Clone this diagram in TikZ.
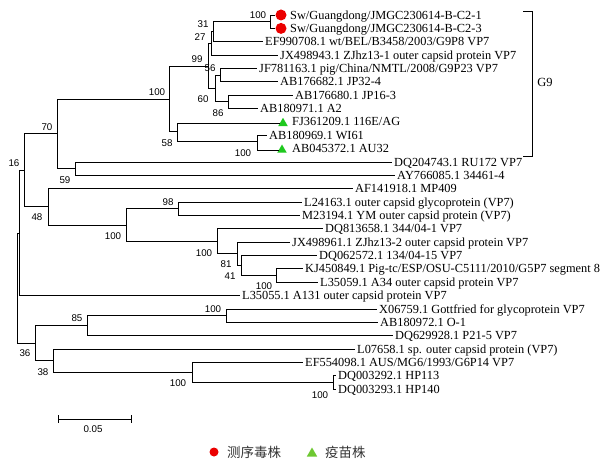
\documentclass[tikz,border=0pt]{standalone}
\usepackage{fontspec}
\setmainfont{Liberation Serif}
\newfontfamily\bsfont{Liberation Sans}
\newfontfamily\cjk{Noto Sans CJK SC}
\usetikzlibrary{shapes.geometric}
\definecolor{seqred}{RGB}{235,0,0}
\definecolor{vacgreen}{RGB}{30,200,30}
\definecolor{leggreen}{RGB}{110,200,50}

\begin{document}
\begin{tikzpicture}[x=1bp,y=-1bp]
		\tikzstyle{leaf} = [anchor=west, inner xsep=2bp, inner ysep=0, text height=8.2bp, text depth=0bp,
		font=\fontsize{12.4}{13}\selectfont]
		\tikzstyle{boot} = [inner sep=0, font=\bsfont\fontsize{9.8}{10}\selectfont]
		\tikzstyle{seq} = [circle, fill=seqred, minimum size=11bp, inner sep=0]
		\tikzstyle{vac} = [regular polygon, regular polygon sides=3, fill=vacgreen,
		minimum size=11bp, inner sep=0, yshift=-1.4bp]
		\tikzstyle{branch} = [line width=0.8bp]
		
		\useasboundingbox (0,0) rectangle (600,466);
		
		% internal nodes
		\coordinate (n100b) at (270,21.7);
		\coordinate (n31) at (213,31.7);
		\coordinate (n27) at (211.5,43.4);
		\coordinate (n56) at (220,75.1);
		\coordinate (n86) at (228,101.8);
		\coordinate (n60) at (215,88.5);
		\coordinate (n99) at (208.5,66);
		\coordinate (n100c) at (257,141.9);
		\coordinate (n58) at (177,131.9);
		\coordinate (n100a) at (169,99);
		\coordinate (n59) at (75,168.7);
		\coordinate (n70) at (57,133.8);
		\coordinate (n98) at (178,208.7);
		\coordinate (n100f) at (276,275.5);
		\coordinate (n41) at (241,265.5);
		\coordinate (n81) at (237,253.8);
		\coordinate (n100e) at (217,241.3);
		\coordinate (n100d) at (126,225);
		\coordinate (n48) at (48,206.9);
		\coordinate (n16) at (24,170.3);
		\coordinate (nA) at (19,233);
		\coordinate (n100h) at (226,315.6);
		\coordinate (n85) at (87,325.6);
		\coordinate (n100g) at (333,382.4);
		\coordinate (n100i) at (192,372.4);
		\coordinate (n38) at (53,360.7);
		\coordinate (n36) at (35,343.2);
		\coordinate (root) at (17,288);
		
		% leaves
		\node [seq] (m1) at (281,15) {};
		\node [leaf] (t1) at (288,15) {Sw/Guangdong/JMGC230614-B-C2-1};
		\node [seq] (m2) at (281,28.4) {};
		\node [leaf] (t2) at (288,28.4) {Sw/Guangdong/JMGC230614-B-C2-3};
		\node [leaf] (t3) at (263,41.7) {EF990708.1 wt/BEL/B3458/2003/G9P8 VP7};
		\node [leaf] (t4) at (278,55.1) {JX498943.1 ZJhz13-1 outer capsid protein VP7};
		\node [leaf] (t5) at (257,68.4) {JF781163.1 pig/China/NMTL/2008/G9P23 VP7};
		\node [leaf] (t6) at (278,81.8) {AB176682.1 JP32-4};
		\node [leaf] (t7) at (293,95.1) {AB176680.1 JP16-3};
		\node [leaf] (t8) at (258,108.5) {AB180971.1 A2};
		\node [vac] (m9) at (283,121.9) {};
		\node [leaf] (t9) at (290,121.9) {FJ361209.1 116E/AG};
		\node [leaf] (t10) at (267,135.2) {AB180969.1 WI61};
		\node [vac] (m11) at (282,148.6) {};
		\node [leaf] (t11) at (290,148.6) {AB045372.1 AU32};
		\node [leaf] (t12) at (392,162) {DQ204743.1 RU172 VP7};
		\node [leaf] (t13) at (395,175.3) {AY766085.1 34461-4};
		\node [leaf] (t14) at (353,188.7) {AF141918.1 MP409};
		\node [leaf] (t15) at (302,202) {L24163.1 outer capsid glycoprotein (VP7)};
		\node [leaf] (t16) at (300,215.4) {M23194.1 YM outer capsid protein (VP7)};
		\node [leaf] (t17) at (323,228.8) {DQ813658.1 344/04-1 VP7};
		\node [leaf] (t18) at (290,242.1) {JX498961.1 ZJhz13-2 outer capsid protein VP7};
		\node [leaf] (t19) at (317,255.5) {DQ062572.1 134/04-15 VP7};
		\node [leaf] (t20) at (303,268.8) {KJ450849.1 Pig-tc/ESP/OSU-C5111/2010/G5P7 segment 8};
		\node [leaf] (t21) at (318,282.2) {L35059.1 A34 outer capsid protein VP7};
		\node [leaf] (t22) at (240,295.6) {L35055.1 A131 outer capsid protein VP7};
		\node [leaf] (t23) at (377,308.9) {X06759.1 Gottfried for glycoprotein VP7};
		\node [leaf] (t24) at (378,322.3) {AB180972.1 O-1};
		\node [leaf] (t25) at (393,335.6) {DQ629928.1 P21-5 VP7};
		\node [leaf] (t26) at (355,349) {L07658.1 sp. outer capsid protein (VP7)};
		\node [leaf] (t27) at (303,362.4) {EF554098.1 AUS/MG6/1993/G6P14 VP7};
		\node [leaf] (t28) at (336,375.7) {DQ003292.1 HP113};
		\node [leaf] (t29) at (336,389) {DQ003293.1 HP140};
		
		% branches
		\draw [branch] (n100b) |- (m1);
		\draw [branch] (n100b) |- (m2);
		\draw [branch] (n31) |- (n100b);
		\draw [branch] (n31) |- (t3);
		\draw [branch] (n27) |- (n31);
		\draw [branch] (n27) |- (t4);
		\draw [branch] (n56) |- (t5);
		\draw [branch] (n56) |- (t6);
		\draw [branch] (n86) |- (t7);
		\draw [branch] (n86) |- (t8);
		\draw [branch] (n60) |- (n56);
		\draw [branch] (n60) |- (n86);
		\draw [branch] (n99) |- (n27);
		\draw [branch] (n99) |- (n60);
		\draw [branch] (n100c) |- (t10);
		\draw [branch] (n100c) |- (m11);
		\draw [branch] (n58) |- (m9);
		\draw [branch] (n58) |- (n100c);
		\draw [branch] (n100a) |- (n99);
		\draw [branch] (n100a) |- (n58);
		\draw [branch] (n59) |- (t12);
		\draw [branch] (n59) |- (t13);
		\draw [branch] (n70) |- (n100a);
		\draw [branch] (n70) |- (n59);
		\draw [branch] (n98) |- (t15);
		\draw [branch] (n98) |- (t16);
		\draw [branch] (n100f) |- (t20);
		\draw [branch] (n100f) |- (t21);
		\draw [branch] (n41) |- (t19);
		\draw [branch] (n41) |- (n100f);
		\draw [branch] (n81) |- (t18);
		\draw [branch] (n81) |- (n41);
		\draw [branch] (n100e) |- (t17);
		\draw [branch] (n100e) |- (n81);
		\draw [branch] (n100d) |- (n98);
		\draw [branch] (n100d) |- (n100e);
		\draw [branch] (n48) |- (t14);
		\draw [branch] (n48) |- (n100d);
		\draw [branch] (n16) |- (n70);
		\draw [branch] (n16) |- (n48);
		\draw [branch] (nA) |- (n16);
		\draw [branch] (nA) |- (t22);
		\draw [branch] (n100h) |- (t23);
		\draw [branch] (n100h) |- (t24);
		\draw [branch] (n85) |- (n100h);
		\draw [branch] (n85) |- (t25);
		\draw [branch] (n100g) |- (t28);
		\draw [branch] (n100g) |- (t29);
		\draw [branch] (n100i) |- (t27);
		\draw [branch] (n100i) |- (n100g);
		\draw [branch] (n38) |- (t26);
		\draw [branch] (n38) |- (n100i);
		\draw [branch] (n36) |- (n85);
		\draw [branch] (n36) |- (n38);
		\draw [branch] (root) |- (nA);
		\draw [branch] (root) |- (n36);
		
		% bootstrap values
		\node [boot] (s100b) at (258,15) {100};
		\node [boot] (s31) at (203,24) {31};
		\node [boot] (s27) at (200,37) {27};
		\node [boot] (s99) at (197,59) {99};
		\node [boot] (s56) at (210,68) {56};
		\node [boot] (s60) at (203,99.5) {60};
		\node [boot] (s86) at (218,113) {86};
		\node [boot] (s100a) at (157,92.5) {100};
		\node [boot] (s70) at (47,127) {70};
		\node [boot] (s58) at (167,143) {58};
		\node [boot] (s100c) at (243,153) {100};
		\node [boot] (s59) at (65,180) {59};
		\node [boot] (s16) at (14,163) {16};
		\node [boot] (s48) at (37,217) {48};
		\node [boot] (s98) at (168,202) {98};
		\node [boot] (s100d) at (113,236) {100};
		\node [boot] (s100e) at (204,253) {100};
		\node [boot] (s81) at (226,264) {81};
		\node [boot] (s41) at (230,276) {41};
		\node [boot] (s100f) at (264,286) {100};
		\node [boot] (s100h) at (213,309) {100};
		\node [boot] (s85) at (77,318) {85};
		\node [boot] (s36) at (25,353) {36};
		\node [boot] (s38) at (43,372) {38};
		\node [boot] (s100i) at (178,383) {100};
		\node [boot] (s100g) at (320,395) {100};
		
		% G9 bracket
		\draw [branch] (523,11) -- (532,11) -- (532,156) -- (523,156);
		\node [font=\fontsize{12.5}{13}\selectfont] (g9) at (545,82) {G9};
		
		% scale bar
		\coordinate (sb1) at (58,419);
		\coordinate (sb2) at (131,419);
		\draw [branch] (sb1) -- (sb2);
		\draw [branch] ([yshift=4bp]sb1) -- ([yshift=-4bp]sb1);
		\draw [branch] ([yshift=4bp]sb2) -- ([yshift=-4bp]sb2);
		\node [boot] (sbl) at (93,429) {0.05};
		
		% legend
		\node [circle, fill=seqred, minimum size=9bp, inner sep=0] (lg1) at (214,452) {};
		\node [anchor=west, inner sep=0, text=black!80, font=\cjk\fontsize{13.5}{14}\selectfont] (lt1) at (227,452) {测序毒株};
		\node [regular polygon, regular polygon sides=3, fill=leggreen, minimum size=12bp,
		inner sep=0, yshift=-1.5bp] (lg2) at (312,452) {};
		\node [anchor=west, inner sep=0, text=black!80, font=\cjk\fontsize{13.5}{14}\selectfont] (lt2) at (325,452) {疫苗株};
\end{tikzpicture}
\end{document}
